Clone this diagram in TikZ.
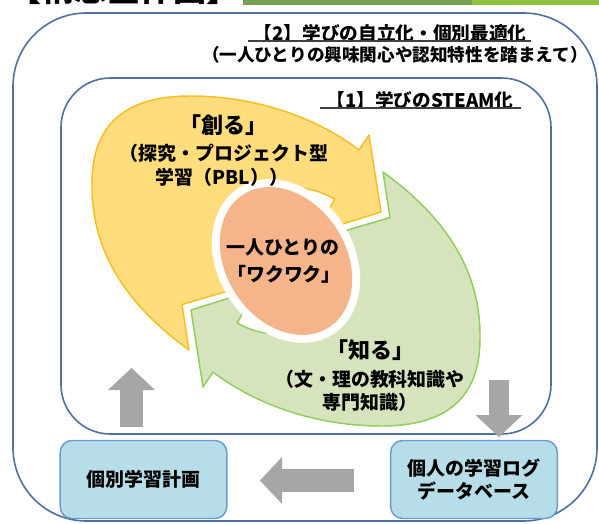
\documentclass[tikz,border=0pt]{standalone}
\usepackage{fontspec}
\setmainfont{Noto Sans CJK JP}
\usetikzlibrary{arrows.meta}
\definecolor{frameblue}{HTML}{50709F}
\definecolor{yfill}{HTML}{FFDC7C}
\definecolor{ydraw}{HTML}{F5BF23}
\definecolor{gfill}{HTML}{D6E4BE}
\definecolor{gdraw}{HTML}{92CC5C}
\definecolor{ofill}{HTML}{F6B48A}
\definecolor{bfill}{HTML}{B7DDE8}
\definecolor{bdraw}{HTML}{6A9BD2}
\definecolor{agray}{HTML}{A6A6A6}
\definecolor{barA}{HTML}{76A050}
\definecolor{barB}{HTML}{8DC43F}
\def\ArrowShape{(189,350) .. controls (120,300) and (91,245) .. (92,183)
  .. controls (92,125) and (125,96) .. (190,96)
  .. controls (260,96) and (320,120) .. (359,150)
  -- (369,135) -- (381,212) -- (317,232) -- (334.7,199)
  .. controls (318,190) and (305,187) .. (289.5,189)
  -- (262.9,186.4) -- (239.8,195.1) -- (223.7,213.8) -- (217.1,239.8)
  -- (221,268.9) -- (227.6,284.9) -- (231,290)
  -- (182,304.5) -- cycle}
\begin{document}
\begin{tikzpicture}[x=0.75pt,y=-0.75pt,
  frame/.style={draw=frameblue,line width=1.2pt},
  yarrow/.style={fill=yfill,draw=ydraw,line width=1.1pt,line join=round},
  garrow/.style={fill=gfill,draw=gdraw,line width=1.1pt,line join=round},
  txt/.style={inner sep=0pt,font=\bfseries\fontsize{14.2pt}{17.5pt}\selectfont,align=center},
  big/.style={inner sep=0pt,font=\bfseries\fontsize{16.5pt}{20pt}\selectfont},
  head/.style={inner sep=0pt,font=\bfseries\fontsize{14pt}{17pt}\selectfont},
  sub/.style={inner sep=0pt,font=\bfseries\fontsize{13.2pt}{16pt}\selectfont},
  ul/.style={draw=black!75,line width=0.8pt},
  infobox/.style={draw=bdraw,fill=bfill,line width=1.1pt,rounded corners=9pt,
    minimum width=125pt,minimum height=58.5pt,align=center,inner sep=0pt,
    font=\bfseries\fontsize{14.2pt}{17.25pt}\selectfont},
  grayarrow/.style={draw=agray,line width=17pt,
    -{Triangle[length=16.5pt,width=35.25pt,line width=0pt]}}]
\useasboundingbox (0,0) rectangle (599,524);
\fill[white] (0,0) rectangle (599,524);
% top cut-off heading and bar
\begin{scope}
\clip (0,0) rectangle (599,524);
\node[anchor=base west,inner sep=0pt,font=\bfseries\fontsize{24.75pt}{30pt}\selectfont] (toptitle) at (8,1.5) {【構想全体図】};
\fill[barA] (243,-2) rectangle (472,5);
\fill[barB] (472,-2) rectangle (599,5);
\end{scope}
% frames
\draw[frame,rounded corners=55pt] (13,13) rectangle (597,521);
\draw[frame,rounded corners=37pt] (61,78) rectangle (551,434);
% headings
\node[head] (t2) at (390,33) {【2】学びの自立化・個別最適化};
\draw[ul] (248,41) -- (531,41);
\node[sub] (t2s) at (395,55) {（一人ひとりの興味関心や認知特性を踏まえて）};
\node[head] (t1) at (420,100) {【1】学びのSTEAM化};
\draw[ul] (320,108) -- (521,108);
% cycle arrows
\path[yarrow] \ArrowShape;
\path[garrow,rotate around={180:(286,261)}] \ArrowShape;
\fill[white,rotate around={33:(286,261)}] (286,261) ellipse [x radius=68,y radius=87];
\fill[ofill,rotate around={33:(286,261)}] (286,261) ellipse [x radius=60,y radius=79];
% labels
\node[big] (tsukuru) at (223,125) {「創る」};
\node[txt] (tsk1) at (224,153) {（探究・プロジェクト型};
\node[txt] (tsk2) at (222,177) {学習（PBL））};
\node[txt] (waku1) at (283,247) {一人ひとりの};
\node[txt] (waku2) at (284,274) {「ワクワク」};
\node[big] (shiru) at (370,350) {「知る」};
\node[txt] (shr1) at (370,379) {（文・理の教科知識や};
\node[txt] (shr2) at (370,402) {専門知識）};
% boxes
\node[infobox] (plan) at (143.5,479.5) {個別学習計画};
\node[infobox] (log) at (474,479.5) {個人の学習ログ\\データベース};
% gray arrows
\coordinate (upA) at (131.5,427);
\coordinate (upB) at (131.5,368);
\coordinate (dnA) at (499,380);
\coordinate (dnB) at (499,437);
\coordinate (ltA) at (354,480.5);
\coordinate (ltB) at (260,480.5);
\draw[grayarrow] (upA) -- (upB);
\draw[grayarrow,line width=15pt] (dnA) -- (dnB);
\draw[grayarrow] (ltA) -- (ltB);
\end{tikzpicture}
\end{document}
